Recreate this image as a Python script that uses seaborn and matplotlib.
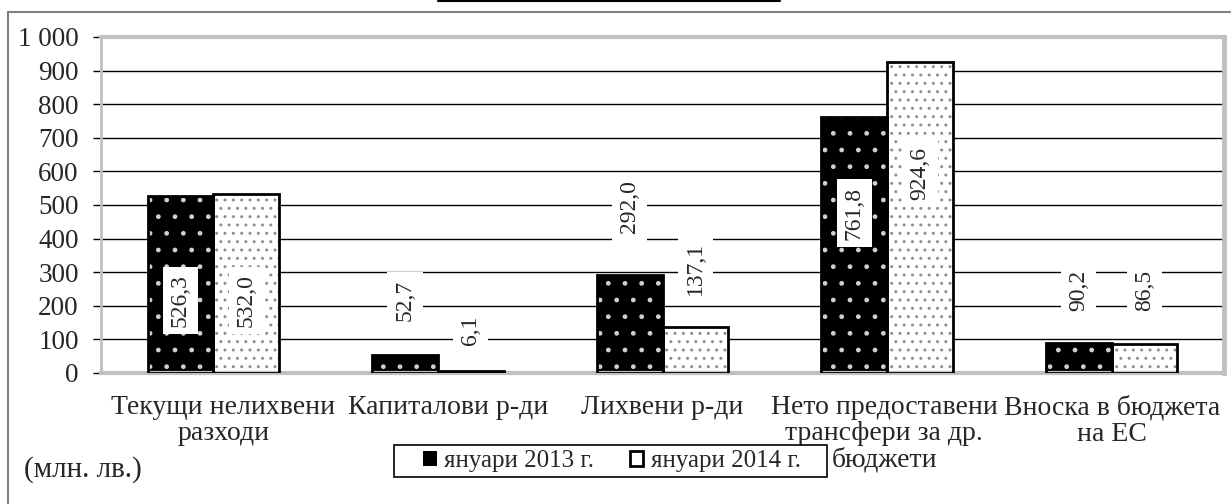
import numpy as np
import pandas as pd
import matplotlib
matplotlib.use("Agg")
import matplotlib.pyplot as plt
import matplotlib.patches as mpatches
import matplotlib.lines as mlines
import matplotlib.transforms as mtransforms
import seaborn as sns

# %%
# data
categories = ["Текущи нелихвени\nразходи", "Капиталови р-ди", "Лихвени р-ди",
              "Нето предоставени\nтрансфери за др.\nбюджети", "Вноска в бюджета\nна ЕС"]
series = ["януари 2013 г.", "януари 2014 г."]
jan2013 = [526.3, 52.7, 292.0, 761.8, 90.2]
jan2014 = [532.0, 6.1, 137.1, 924.6, 86.5]
# where the value labels sit (in y units)
label_y_2013 = [217, 217, 494, 476, 247]
label_y_2014 = [217, 128, 312, 595, 247]

df = pd.DataFrame({
    "cat": categories * 2,
    "series": [series[0]] * 5 + [series[1]] * 5,
    "value": jan2013 + jan2014,
})

# %%
sns.set_style("white")
plt.rcParams["font.family"] = ["Liberation Serif", "DejaVu Serif"]
plt.rcParams["hatch.linewidth"] = 1.0

fig = plt.figure(figsize=(12.31, 5.04), dpi=100)
ax = fig.add_axes([101 / 1231, 131 / 504, 1123 / 1231, 336 / 504])

sns.barplot(data=df, x="cat", y="value", hue="series", order=categories,
            hue_order=series, palette=["black", "white"], width=0.585,
            gap=0, legend=False, ax=ax, errorbar=None, saturation=1)

n = len(categories)
bars = ax.patches[:2 * n]
for i, p in enumerate(bars):
    first = i < n
    p.set_facecolor("black" if first else "white")
    p.set_edgecolor("#d0d0d0" if first else "#909090")
    p.set_hatch("." if first else "..")
    p.set_linewidth(0)
    outline = mpatches.Rectangle((p.get_x(), p.get_y()), p.get_width(), p.get_height(),
                                 fill=False, edgecolor="black", linewidth=2, zorder=3)
    ax.add_patch(outline)

# value labels
for i, p in enumerate(bars):
    val = (jan2013 + jan2014)[i]
    ly = (label_y_2013 + label_y_2014)[i]
    ax.text(p.get_x() + p.get_width() / 2, ly, f"{val:.1f}".replace(".", ","),
            rotation=90, ha="center", va="center", fontsize=17, zorder=5,
            bbox=dict(boxstyle="square,pad=0.3", facecolor="white", edgecolor="none"))

ax.set_ylim(0, 1000)
ax.set_xlim(-0.5, n - 0.5)
ax.set_yticks(np.arange(0, 1001, 100))
ax.set_yticklabels([f"{v:,}".replace(",", " ") for v in range(0, 1001, 100)], fontsize=19.5)
ax.set_xticks(range(n))
ax.set_xticklabels(categories, fontsize=20, linespacing=1.05)
ax.set_xlabel("")
ax.set_ylabel("")
ax.tick_params(axis="y", length=6, width=1, color="black", pad=10, direction="out", left=True)
ax.tick_params(axis="x", length=0, pad=16)
# Excel nudged the first two labels a little to the right
for lab, dx in zip(ax.get_xticklabels(), [10, 10, 0, -3, 0]):
    lab.set_transform(lab.get_transform() + mtransforms.ScaledTranslation(dx / 100, 0, fig.dpi_scale_trans))
for y in range(100, 1000, 100):
    ax.axhline(y, color="black", linewidth=1, zorder=0.5)

for side in ["top", "right", "bottom", "left"]:
    ax.spines[side].set_visible(True)
    ax.spines[side].set_color("#c0c0c0")
ax.spines["top"].set_linewidth(3)
ax.spines["right"].set_linewidth(3.5)
ax.spines["bottom"].set_linewidth(3)
ax.spines["left"].set_linewidth(2)

# legend
h1 = mpatches.Patch(facecolor="black", edgecolor="white", linewidth=0)
h2 = mpatches.Patch(facecolor="white", edgecolor="black", linewidth=2)
leg = fig.legend([h1, h2], series, loc="center", bbox_to_anchor=(612 / 1231, 1 - 461 / 504),
                 ncol=2, fontsize=18, frameon=False,
                 handlelength=0.55, handleheight=0.55, handletextpad=0.3, columnspacing=1.4,
                 borderpad=0.2, borderaxespad=0)
leg.set_zorder(10)
fig.add_artist(mpatches.Rectangle((394 / 1231, 1 - 477 / 504), 433 / 1231, 32 / 504,
                                  transform=fig.transFigure, facecolor="white",
                                  edgecolor="black", linewidth=1.2, zorder=9))

fig.text(24 / 1231, 1 - 470 / 504, "(млн. лв.)", fontsize=21, ha="left", va="center")

# outer chart frame and title underline remnant
fig.add_artist(mlines.Line2D([8 / 1231, 1230 / 1231], [1 - 12 / 504] * 2,
                             color="#808080", linewidth=1.5, transform=fig.transFigure))
fig.add_artist(mlines.Line2D([8 / 1231] * 2, [0, 1 - 12 / 504],
                             color="#808080", linewidth=1.5, transform=fig.transFigure))
fig.add_artist(mlines.Line2D([438 / 1231, 780 / 1231], [1 - 0.5 / 504] * 2,
                             color="black", linewidth=1.5, transform=fig.transFigure))

fig.savefig("out.png", dpi=100)
